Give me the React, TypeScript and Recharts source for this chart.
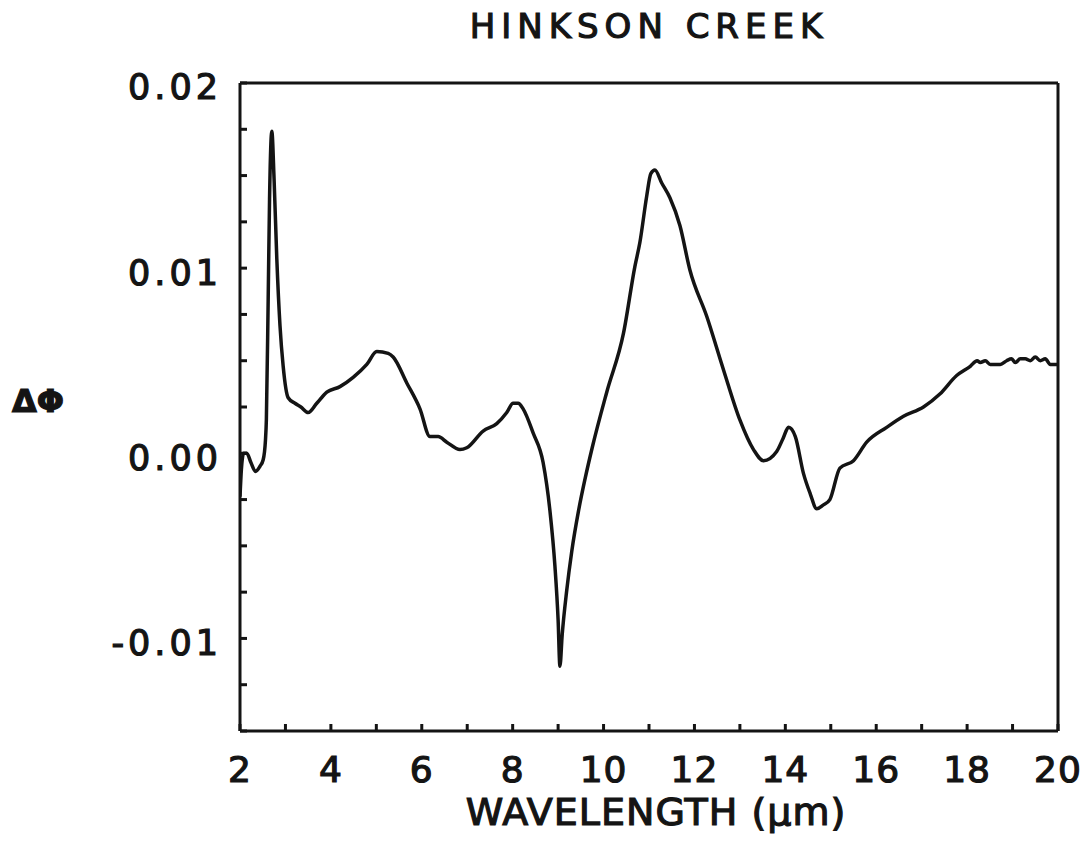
import React from 'react';
import { LineChart, Line, XAxis, YAxis } from 'recharts';

// Spectral difference ΔΦ against wavelength, traced point by point
const wavelength = [
  2.0, 2.03, 2.08, 2.15, 2.24, 2.34, 2.44, 2.51, 2.56, 2.58, 2.62, 2.65, 2.7, 2.75, 2.81, 2.88,
  2.95, 3.06, 3.21, 3.34, 3.5, 3.69, 3.91, 4.2, 4.49, 4.79, 5.01, 5.26, 5.37, 5.67, 5.96, 6.18,
  6.36, 6.55, 6.84, 6.99, 7.35, 7.65, 7.87, 8.01, 8.12, 8.23, 8.45, 8.67, 8.82, 8.93, 9.0, 9.04,
  9.09, 9.19, 9.3, 9.45, 9.6, 9.75, 10.07, 10.44, 10.69, 10.8, 10.95, 11.04, 11.13, 11.28, 11.46,
  11.68, 11.9, 12.27, 12.64, 13.0, 13.3, 13.52, 13.81, 13.95, 14.07, 14.22, 14.4, 14.55, 14.69,
  14.83, 14.98, 15.2, 15.5, 15.79, 16.23, 16.6, 17.04, 17.4, 17.77, 18.07, 18.22, 18.29, 18.4,
  18.51, 18.73, 18.87, 18.98, 19.06, 19.17, 19.28, 19.39, 19.5, 19.61, 19.72, 19.83, 20.0,
];

const deltaPhi = [
  -0.00235, -0.0009, 0.0, 0.0, -0.0005, -0.00098, -0.0007, -0.00035, 0.0007, 0.0018, 0.0083, 0.0137,
  0.0174, 0.0148, 0.0105, 0.0069, 0.0047, 0.003, 0.0027, 0.0025, 0.0022, 0.0027, 0.0033, 0.0036,
  0.0041, 0.0048, 0.0055, 0.0054, 0.0052, 0.0038, 0.0024, 0.0009, 0.0009, 0.0006, 0.0002, 0.0003,
  0.0012, 0.0016, 0.0022, 0.0027, 0.0027, 0.0024, 0.0011, -0.0005, -0.0031, -0.0061, -0.009, -0.0115,
  -0.0098, -0.0074, -0.0053, -0.0031, -0.0013, 0.0003, 0.0033, 0.0065, 0.0101, 0.0114, 0.0139,
  0.0151, 0.0153, 0.0146, 0.0138, 0.0123, 0.0099, 0.0074, 0.0045, 0.0018, 0.0002, -0.0004, 0.0001,
  0.0008, 0.0014, 0.0009, -0.0011, -0.0022, -0.003, -0.0028, -0.0025, -0.0008, -0.0004, 0.0006,
  0.0014, 0.002, 0.0025, 0.0032, 0.0042, 0.0047, 0.005, 0.0049, 0.005, 0.0048, 0.0048, 0.005,
  0.0051, 0.0049, 0.0051, 0.0051, 0.005, 0.0052, 0.005, 0.0051, 0.0048, 0.0048,
];

const xTicks = [2, 3, 4, 5, 6, 7, 8, 9, 10, 11, 12, 13, 14, 15, 16, 17, 18, 19, 20];
const xTickLabels = ['2', '4', '6', '8', '10', '12', '14', '16', '18', '20'];

const yTicks = [
  -0.015, -0.0125, -0.01, -0.0075, -0.005, -0.0025, 0, 0.0025, 0.005, 0.0075, 0.01, 0.0125, 0.015,
  0.0175, 0.02,
];
const yTickValues = [-0.01, 0, 0.01, 0.02];
const yTickLabels = ['-0.01', '0.00', '0.01', '0.02'];

const data = wavelength.map((w, i) => ({ wavelength: w, dphi: deltaPhi[i] }));

const INK = '#141414';
const FONT = '"DejaVu Sans", sans-serif';

const fmtX = (v: number) => (xTickLabels.includes(String(v)) ? String(v) : '');
const fmtY = (v: number) => {
  const i = yTickValues.findIndex((t) => Math.abs(t - v) < 1e-9);
  return i >= 0 ? yTickLabels[i] : '';
};

// book weight plus a thin outline gives the medium stroke of the lettering
const xTickFont = {
  fill: INK, stroke: INK, strokeWidth: 1.2, fontSize: 36, fontFamily: FONT, letterSpacing: 1,
};
const yTickFont = {
  fill: INK, stroke: INK, strokeWidth: 1.2, fontSize: 35, fontFamily: FONT, letterSpacing: 4, dy: 4,
};
const axisLine = { stroke: INK, strokeWidth: 3 };
const tickLine = { stroke: INK, strokeWidth: 3 };

const textBase: React.CSSProperties = {
  position: 'absolute', fontFamily: FONT, color: INK, WebkitTextStroke: `1.2px ${INK}`,
};

export default function App() {
  return (
    <div style={{ position: 'absolute', left: 0, top: 0, width: 1086, height: 842, background: '#fff' }}>
      <div
        style={{
          ...textBase, left: 0, width: 1086, top: 6, textAlign: 'center',
          paddingLeft: 212, boxSizing: 'border-box', fontSize: 34, letterSpacing: 6,
        }}
      >
        HINKSON CREEK
      </div>
      <div style={{ ...textBase, left: 12, top: 382, fontSize: 32, fontWeight: 'bold' }}>ΔΦ</div>
      <div
        style={{
          ...textBase, left: 0, width: 1086, top: 790, textAlign: 'center',
          paddingLeft: 226, boxSizing: 'border-box', fontSize: 38, letterSpacing: 1,
        }}
      >
        WAVELENGTH (μm)
      </div>
      <LineChart
        width={1086}
        height={842}
        data={data}
        margin={{ top: 82, right: 27, left: 0, bottom: 0 }}
        style={{ position: 'absolute', left: 0, top: 0 }}
      >
        <XAxis
          xAxisId="bottom"
          dataKey="wavelength"
          type="number"
          domain={[2, 20]}
          ticks={xTicks}
          interval={0}
          tickFormatter={fmtX}
          height={111}
          tickSize={-7}
          tickMargin={32}
          axisLine={axisLine}
          tickLine={tickLine}
          tick={xTickFont}
          allowDataOverflow
        />
        <XAxis
          xAxisId="top"
          orientation="top"
          dataKey="wavelength"
          type="number"
          domain={[2, 20]}
          ticks={xTicks}
          interval={0}
          height={1}
          tickSize={-7}
          axisLine={axisLine}
          tickLine={tickLine}
          tick={false}
          allowDataOverflow
        />
        <YAxis
          yAxisId="left"
          type="number"
          domain={[-0.015, 0.02]}
          ticks={yTicks}
          interval={0}
          tickFormatter={fmtY}
          width={240}
          tickSize={-7}
          tickMargin={25}
          axisLine={axisLine}
          tickLine={tickLine}
          tick={yTickFont}
          allowDataOverflow
        />
        <YAxis
          yAxisId="right"
          orientation="right"
          type="number"
          domain={[-0.015, 0.02]}
          ticks={yTicks}
          interval={0}
          width={1}
          tickSize={-7}
          axisLine={axisLine}
          tickLine={tickLine}
          tick={false}
          allowDataOverflow
        />
        <Line
          xAxisId="bottom"
          yAxisId="left"
          type="monotone"
          dataKey="dphi"
          stroke={INK}
          strokeWidth={3.5}
          dot={false}
          isAnimationActive={false}
        />
      </LineChart>
    </div>
  );
}
